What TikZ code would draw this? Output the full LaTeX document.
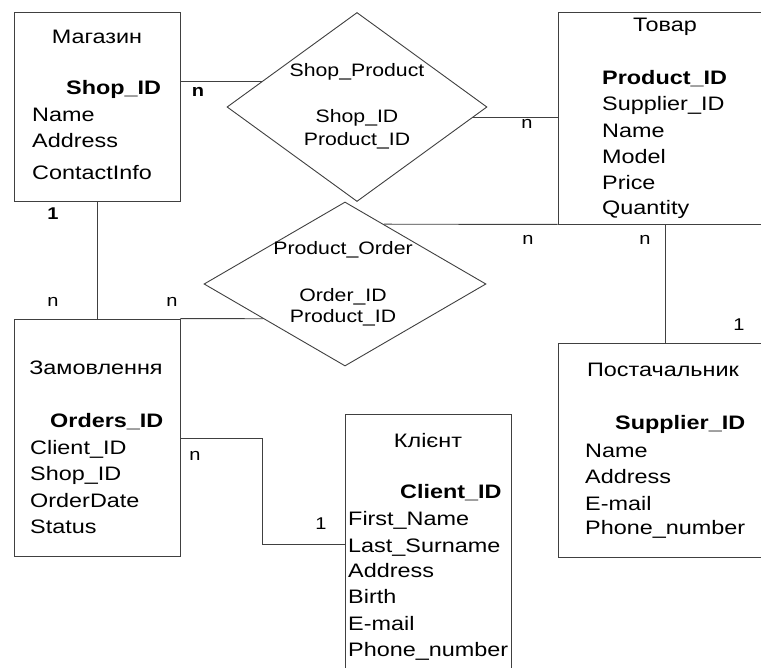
\documentclass[tikz,border=0pt]{standalone}
\usepackage{fontspec}
\setmainfont{Liberation Sans}[FakeStretch=1.18]
\newfontfamily\widefont{Liberation Sans}[FakeStretch=1.2]
\usetikzlibrary{shapes.geometric}
\begin{document}
\begin{tikzpicture}[x=1pt,y=-1pt,
  ln/.style={draw=black!75,line width=0.9pt},
  ent/.style={ln,rectangle,inner sep=0pt,fill=white},
  rel/.style={ln,diamond,inner sep=0pt,fill=white},
  txt/.style={inner sep=0pt,anchor=base west,font=\widefont\fontsize{19.5}{22}\selectfont},
  ctr/.style={inner sep=0pt,anchor=base,font=\widefont\fontsize{19.5}{22}\selectfont},
  dtxt/.style={inner sep=0pt,anchor=base,font=\fontsize{18}{20}\selectfont},
  bld/.style={inner sep=0pt,anchor=base west,font=\widefont\fontsize{19.5}{22}\selectfont\bfseries},
  card/.style={inner sep=0pt,font=\fontsize{17}{20}\selectfont},
  bcard/.style={inner sep=0pt,font=\fontsize{17}{20}\selectfont\bfseries}]
\useasboundingbox (0,0) rectangle (761,668);
\clip (0,0) rectangle (761,668);
\fill[white] (0,0) rectangle (761,668);

% entities
\node[ent,minimum width=166pt,minimum height=189pt] (mag) at (97,106.5) {};
\node[ent,minimum width=214pt,minimum height=212pt] (tov) at (665,118) {};
\node[ent,minimum width=166pt,minimum height=237pt] (zam) at (97,437.5) {};
\node[ent,minimum width=166pt,minimum height=266pt] (kli) at (428,547) {};
\node[ent,minimum width=214pt,minimum height=214pt] (post) at (665,450) {};

% relationships
\node[rel,minimum width=260pt,minimum height=189pt] (sp) at (357,107) {};
\node[rel,minimum width=282pt,minimum height=164pt] (po) at (345,284) {};

% connectors
\draw[ln] (mag.east |- sp.165.4) -- (sp.165.4);
\draw[ln] (sp.-5.46) -- (tov.west |- sp.-5.46);
\draw[ln] (po.57.8) -- (tov.south west);
\draw[ln] (tov.south) -- (post.north);
\draw[ln] (mag.south) -- (zam.north);
\draw[ln] (zam.north east) -- (po.203.4);
\coordinate (zk) at (262,438);
\coordinate (kz) at (262,544);
\draw[ln] (zam.east |- zk) -- (zk) -- (kz) -- (kli.west |- kz);

% Магазин
\node[ctr] (magT) at (97,44) {Магазин};
\node[bld] (mag1) at (66,95) {Shop\_ID};
\node[txt] (mag2) at (32,122) {Name};
\node[txt] (mag3) at (32,148) {Address};
\node[txt] (mag4) at (32,180) {ContactInfo};

% Товар
\node[ctr] (tovT) at (665,32) {Товар};
\node[bld] (tov1) at (602,85) {Product\_ID};
\node[txt] (tov2) at (602,111) {Supplier\_ID};
\node[txt] (tov3) at (602,138) {Name};
\node[txt] (tov4) at (602,164) {Model};
\node[txt] (tov5) at (602,190) {Price};
\node[txt] (tov6) at (602,215) {Quantity};

% Shop_Product
\node[dtxt] (spT) at (357,77) {Shop\_Product};
\node[dtxt] (sp1) at (357,123) {Shop\_ID};
\node[dtxt] (sp2) at (357,146) {Product\_ID};

% Product_Order
\node[dtxt] (poT) at (343,255) {Product\_Order};
\node[dtxt] (po1) at (343,302) {Order\_ID};
\node[dtxt] (po2) at (343,323) {Product\_ID};

% Замовлення
\node[ctr] (zamT) at (96,375) {Замовлення};
\node[bld] (zam1) at (50,428) {Orders\_ID};
\node[txt] (zam2) at (30,454) {Client\_ID};
\node[txt] (zam3) at (30,480) {Shop\_ID};
\node[txt] (zam4) at (30,507) {OrderDate};
\node[txt] (zam5) at (30,533) {Status};

% Клієнт
\node[ctr] (kliT) at (428,447) {Клієнт};
\node[bld] (kli1) at (400,498) {Client\_ID};
\node[txt] (kli2) at (348,525) {First\_Name};
\node[txt] (kli3) at (348,552) {Last\_Surname};
\node[txt] (kli4) at (348,577) {Address};
\node[txt] (kli5) at (348,603) {Birth};
\node[txt] (kli6) at (348,630) {E-mail};
\node[txt] (kli7) at (348,656) {Phone\_number};

% Постачальник
\node[ctr] (postT) at (663,377) {Постачальник};
\node[bld] (post1) at (615,430) {Supplier\_ID};
\node[txt] (post2) at (585,457) {Name};
\node[txt] (post3) at (585,483) {Address};
\node[txt] (post4) at (585,510) {E-mail};
\node[txt] (post5) at (585,534) {Phone\_number};

% cardinalities
\node[bcard] (c1) at (198,92) {n};
\node[bcard] (c2) at (53,214) {1};
\node[card] (c3) at (527,124) {n};
\node[card] (c4) at (53,302) {n};
\node[card] (c5) at (172,302) {n};
\node[card] (c6) at (528,240) {n};
\node[card] (c7) at (645,240) {n};
\node[card] (c8) at (739,325) {1};
\node[card] (c9) at (195,456) {n};
\node[card] (c10) at (321,524) {1};
\end{tikzpicture}
\end{document}
